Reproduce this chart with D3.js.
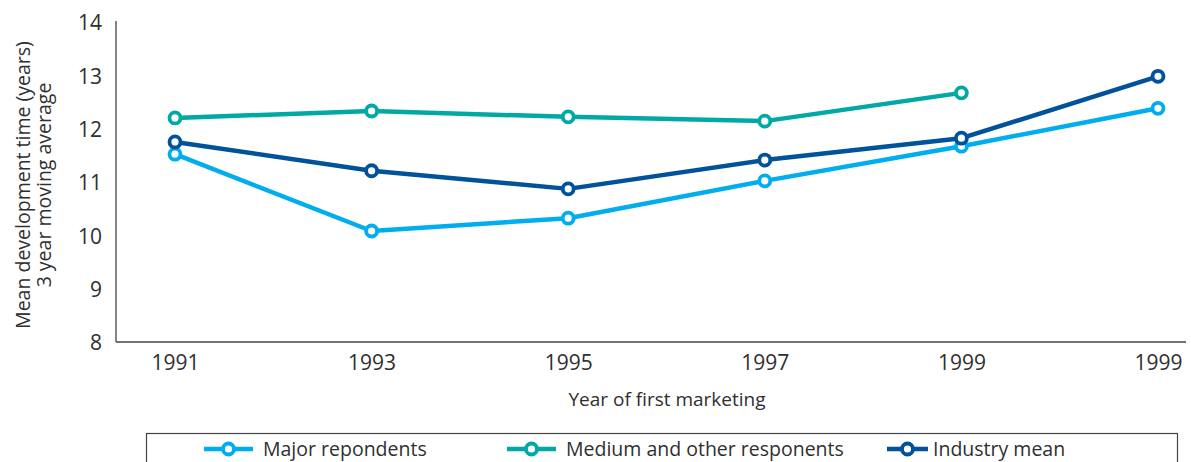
<!DOCTYPE html>
<html>
<head>
<meta charset="utf-8">
<script src="https://cdn.jsdelivr.net/npm/d3@7"></script>
<style>
  body { margin: 0; background: #fff; }
  text { font-family: "Open Sans", "Noto Sans", sans-serif; fill: #2f2f2f; }
</style>
</head>
<body>
<svg width="1191" height="462"></svg>
<script>
var width = 1191;
var height = 462;

// categories (last label repeats in the source)
var years = ["1991", "1993", "1995", "1997", "1999", "1999b"];
var yearLabels = ["1991", "1993", "1995", "1997", "1999", "1999"];
var yTicks = [8, 9, 10, 11, 12, 13, 14];

var majorValues = [11.54, 10.1, 10.34, 11.04, 11.69, 12.4];
var mediumValues = [12.22, 12.35, 12.24, 12.16, 12.69, null];
var industryValues = [11.77, 11.23, 10.89, 11.43, 11.84, 13.0];

var seriesNames = ["Major repondents", "Medium and other responents", "Industry mean"];
var seriesColors = ["#00adee", "#00a9a4", "#00529b"];

var series = [majorValues, mediumValues, industryValues].map(function(vals, i) {
  return {
    name: seriesNames[i],
    color: seriesColors[i],
    points: vals.map(function(v, j) { return { year: years[j], value: v }; })
                .filter(function(d) { return d.value !== null; })
  };
});

var axisLeftX = 116;
var axisRightX = 1186;

var xScale = d3.scalePoint()
                .domain(years)
                .range([175, 1158]);

var yScale = d3.scaleLinear()
                .domain([8, 14])
                .range([343, 23]);

var svg = d3.select("svg");

// y axis
var yAxis = d3.axisLeft(yScale)
                .tickValues(yTicks)
                .tickSize(0)
                .tickPadding(14)
                .tickFormat(d3.format("d"));

var gy = svg.append("g")
    .attr("transform", "translate(" + axisLeftX + ",0)")
    .call(yAxis);
gy.select(".domain").remove();
gy.selectAll("text").style("font-size", "21px").attr("fill", "#2f2f2f")
    .style("font-family", "'Open Sans', sans-serif");

svg.append("line")
    .attr("x1", axisLeftX).attr("x2", axisLeftX)
    .attr("y1", 21).attr("y2", yScale(8) - 1)
    .attr("stroke", "#444").attr("stroke-width", 1.3);

// x axis
var xAxis = d3.axisBottom(xScale)
                .tickSize(0)
                .tickPadding(13)
                .tickFormat(function(d, i) { return yearLabels[i]; });

var gx = svg.append("g")
    .attr("transform", "translate(0," + (yScale(8) - 1) + ")")
    .call(xAxis);
gx.select(".domain").remove();
gx.selectAll("text").style("font-size", "21px").attr("fill", "#2f2f2f")
    .style("font-family", "'Open Sans', sans-serif");

svg.append("line")
    .attr("x1", axisLeftX).attr("x2", axisRightX)
    .attr("y1", yScale(8) - 1).attr("y2", yScale(8) - 1)
    .attr("stroke", "#444").attr("stroke-width", 1.3);

// axis titles
svg.append("text")
    .attr("x", 667)
    .attr("y", 406)
    .style("text-anchor", "middle")
    .style("font-size", "19px")
    .text("Year of first marketing");

var yTitle = svg.append("text")
    .attr("transform", "translate(30,185) rotate(-90)")
    .style("text-anchor", "middle")
    .style("font-size", "19.5px");
yTitle.append("tspan").attr("x", 0).attr("dy", 0).text("Mean development time (years)");
yTitle.append("tspan").attr("x", 0).attr("dy", 21).text("3 year moving average");

// lines and markers
var line = d3.line()
    .x(function(d) { return xScale(d.year); })
    .y(function(d) { return yScale(d.value); });

var groups = svg.selectAll(".series")
  .data(series)
  .enter()
  .append("g")
    .attr("class", "series");

groups.append("path")
    .attr("d", function(d) { return line(d.points); })
    .attr("fill", "none")
    .attr("stroke", function(d) { return d.color; })
    .attr("stroke-width", 4.5)
    .attr("stroke-linejoin", "round");

groups.each(function(s) {
  d3.select(this).selectAll("circle")
    .data(s.points)
    .enter()
    .append("circle")
      .attr("cx", function(d) { return xScale(d.year); })
      .attr("cy", function(d) { return yScale(d.value); })
      .attr("r", 5.5)
      .attr("fill", "#fff")
      .attr("stroke", s.color)
      .attr("stroke-width", 3.8);
});

// legend
svg.append("rect")
    .attr("x", 146.5).attr("y", 433.5)
    .attr("width", 1031).attr("height", 60)
    .attr("fill", "none")
    .attr("stroke", "#444")
    .attr("stroke-width", 1.2);

var legendX = [204, 507, 887];
var legendW = [49, 49, 41];

var legend = svg.selectAll(".legend")
  .data(series)
  .enter()
  .append("g")
    .attr("class", "legend")
    .attr("transform", function(d, i) { return "translate(" + legendX[i] + ",449)"; });

legend.append("line")
    .attr("x1", 0).attr("x2", function(d, i) { return legendW[i]; })
    .attr("y1", 0).attr("y2", 0)
    .attr("stroke", function(d) { return d.color; })
    .attr("stroke-width", 4.5);

legend.append("circle")
    .attr("cx", function(d, i) { return legendW[i] / 2; })
    .attr("cy", 0)
    .attr("r", 5.5)
    .attr("fill", "#fff")
    .attr("stroke", function(d) { return d.color; })
    .attr("stroke-width", 3.8);

legend.append("text")
    .attr("x", function(d, i) { return legendW[i] + (i === 2 ? 5 : 10); })
    .attr("y", 0)
    .attr("dy", "0.36em")
    .style("font-size", "19.5px")
    .text(function(d) { return d.name; });
</script>
</body>
</html>
